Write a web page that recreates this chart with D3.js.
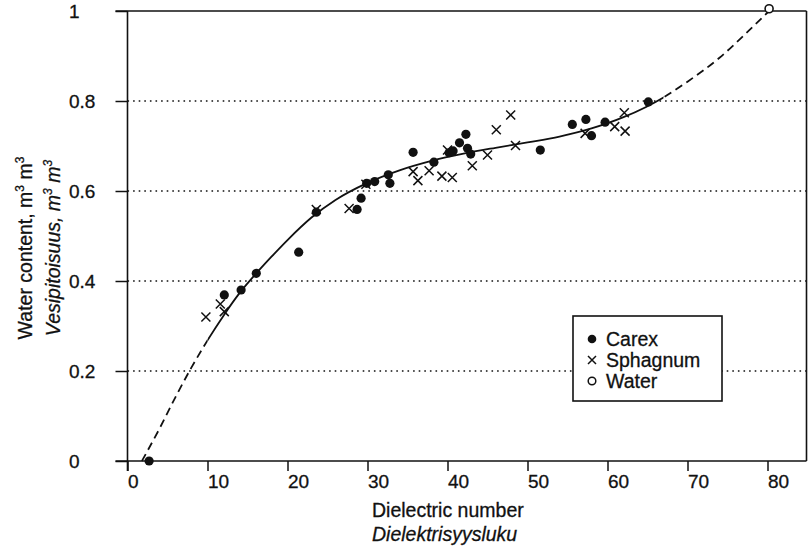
<!DOCTYPE html>
<html>
<head>
<meta charset="utf-8">
<script src="https://cdn.jsdelivr.net/npm/d3@7"></script>
<style>
  body { margin: 0; background: #fff; }
  svg { display: block; font-family: "Liberation Sans", Arial, Helvetica, sans-serif; }
  text { stroke: #111; stroke-width: 0.3px; }
  .tick text { font-size: 19px; fill: #111; }
</style>
</head>
<body>
<div id="chart-area"></div>
<script>
// data
var carexEps   = [2.7, 12.1, 14.2, 16.1, 21.4, 23.6, 28.7, 29.2, 29.9, 30.9, 32.6, 32.8, 35.7, 38.3, 40.2, 40.7, 41.5, 42.3, 42.5, 42.9, 51.6, 55.6, 57.3, 58.0, 59.7, 65.1];
var carexTheta = [0, 0.369, 0.38, 0.417, 0.464, 0.553, 0.559, 0.584, 0.617, 0.621, 0.636, 0.617, 0.686, 0.664, 0.685, 0.689, 0.707, 0.726, 0.695, 0.682, 0.691, 0.748, 0.759, 0.723, 0.753, 0.798];

var sphagEps   = [9.8, 11.6, 12.1, 23.6, 27.7, 29.8, 35.7, 36.3, 37.7, 39.3, 40.6, 40.0, 43.1, 45.0, 46.1, 47.9, 48.5, 57.2, 60.9, 62.1, 62.2];
var sphagTheta = [0.32, 0.349, 0.332, 0.559, 0.561, 0.615, 0.643, 0.623, 0.645, 0.633, 0.63, 0.691, 0.656, 0.68, 0.736, 0.769, 0.701, 0.728, 0.743, 0.774, 0.733];

var waterEps   = [80.2];
var waterTheta = [1.005];

// fitted curve
var fitEps   = [1.8, 4, 6, 8, 10, 12, 14, 16, 18, 20, 23, 26, 30, 34, 38, 42, 46, 50, 54, 58, 62, 67, 70, 74, 77, 80.2];
var fitTheta = [0, 0.072, 0.142, 0.208, 0.268, 0.323, 0.373, 0.415, 0.454, 0.491, 0.541, 0.58, 0.618, 0.646, 0.667, 0.683, 0.696, 0.708, 0.721, 0.739, 0.764, 0.808, 0.843, 0.896, 0.945, 1.0];
var solidFrom = 10, solidTo = 67;   // solid part of the curve, rest dashed

var xTicks = [0, 10, 20, 30, 40, 50, 60, 70, 80];
var yTicks = [0, 0.2, 0.4, 0.6, 0.8, 1];
var gridTicks = [0.2, 0.4, 0.6, 0.8];

var legendNames = ["Carex", "Sphagnum", "Water"];

var W = 808, H = 550;
var ink = "#111";

var svg = d3.select("#chart-area")
    .append("svg")
        .attr("width", W)
        .attr("height", H);

var x = d3.scaleLinear().domain([0, 85]).range([127.5, 807.5]);
var y = d3.scaleLinear().domain([0, 1]).range([461, 11]);

// dotted gridlines
svg.append("g").selectAll("line")
    .data(gridTicks)
    .enter().append("line")
        .attr("x1", x(0)).attr("x2", x(85) - 1)
        .attr("y1", d => y(d)).attr("y2", d => y(d))
        .attr("stroke", ink)
        .attr("stroke-width", 1.3)
        .attr("stroke-dasharray", "1.6,4");

// axes
var xAxis = d3.axisBottom(x).tickValues(xTicks).tickSize(10).tickFormat(d3.format("d"));
var xAxisGroup = svg.append("g")
    .attr("transform", "translate(0," + y(0) + ")")
    .call(xAxis);
xAxisGroup.select(".domain").remove();
xAxisGroup.selectAll(".tick line").attr("stroke", ink).attr("stroke-width", 1.5);
xAxisGroup.selectAll(".tick text")
    .attr("text-anchor", "start")
    .attr("x", 0)
    .attr("y", 27)
    .attr("dy", 0);

var yAxis = d3.axisLeft(y).tickValues(yTicks).tickSize(12).tickFormat(d => d === 0 || d === 1 ? d : d3.format(".1f")(d));
var yAxisGroup = svg.append("g")
    .attr("transform", "translate(" + x(0) + ",0)")
    .call(yAxis);
yAxisGroup.select(".domain").remove();
yAxisGroup.selectAll(".tick line").attr("stroke", ink).attr("stroke-width", 1.5);
yAxisGroup.selectAll(".tick text")
    .attr("text-anchor", "start")
    .attr("x", 69 - x(0))
    .attr("font-size", 20)
    .attr("dy", "0.36em");

// frame
var frame = svg.append("g").attr("stroke", ink).attr("stroke-width", 1.6).attr("fill", "none");
frame.append("line").attr("x1", x(0) - 12).attr("x2", x(85) - 1).attr("y1", y(1)).attr("y2", y(1));
frame.append("line").attr("x1", x(0) - 12).attr("x2", x(85) - 1).attr("y1", y(0)).attr("y2", y(0));
frame.append("line").attr("x1", x(0)).attr("x2", x(0)).attr("y1", y(1)).attr("y2", y(0) + 10);
frame.append("line").attr("x1", x(85) - 1).attr("x2", x(85) - 1).attr("y1", y(1)).attr("y2", y(0));

// fitted curve: one smooth path, clipped into solid and dashed parts
var fit = fitEps.map((e, i) => ({e: e, t: fitTheta[i]}));
var line = d3.line().x(d => x(d.e)).y(d => y(d.t)).curve(d3.curveMonotoneX);

var defs = svg.append("defs");
defs.append("clipPath").attr("id", "clip-solid")
    .append("rect")
        .attr("x", x(solidFrom)).attr("y", 0)
        .attr("width", x(solidTo) - x(solidFrom)).attr("height", H);
var cd = defs.append("clipPath").attr("id", "clip-dash");
cd.append("rect").attr("x", 0).attr("y", 0).attr("width", x(solidFrom)).attr("height", H);
cd.append("rect").attr("x", x(solidTo)).attr("y", 0).attr("width", W - x(solidTo)).attr("height", H);

svg.append("path")
    .attr("d", line(fit))
    .attr("clip-path", "url(#clip-solid)")
    .attr("fill", "none")
    .attr("stroke", ink)
    .attr("stroke-width", 1.8);
svg.append("path")
    .attr("d", line(fit))
    .attr("clip-path", "url(#clip-dash)")
    .attr("fill", "none")
    .attr("stroke", ink)
    .attr("stroke-width", 1.8)
    .attr("stroke-dasharray", "8,5");

// markers
function cross(g, cx, cy, s) {
    g.append("path")
        .attr("d", "M" + (cx - s) + "," + (cy - s) + "L" + (cx + s) + "," + (cy + s) +
                   "M" + (cx - s) + "," + (cy + s) + "L" + (cx + s) + "," + (cy - s))
        .attr("stroke", ink)
        .attr("stroke-width", 1.5)
        .attr("fill", "none");
}

var sphag = svg.append("g");
sphagEps.forEach((e, i) => cross(sphag, x(e), y(sphagTheta[i]), 4.5));

svg.append("g").selectAll("circle")
    .data(carexEps.map((e, i) => ({e: e, t: carexTheta[i]})))
    .enter().append("circle")
        .attr("cx", d => x(d.e))
        .attr("cy", d => y(d.t))
        .attr("r", 4.6)
        .attr("fill", ink);

svg.append("g").selectAll("circle")
    .data(waterEps.map((e, i) => ({e: e, t: waterTheta[i]})))
    .enter().append("circle")
        .attr("cx", d => x(d.e))
        .attr("cy", d => y(d.t))
        .attr("r", 4)
        .attr("fill", "#fff")
        .attr("stroke", ink)
        .attr("stroke-width", 1.6);

// axis titles
svg.append("text")
    .attr("x", 372).attr("y", 517)
    .attr("font-size", 19.5).attr("fill", ink)
    .text("Dielectric number");
svg.append("text")
    .attr("x", 372).attr("y", 541)
    .attr("font-size", 19.5).attr("font-style", "italic").attr("fill", ink)
    .text("Dielektrisyysluku");

function yTitle(tx, italic, label) {
    var t = svg.append("text")
        .attr("transform", "translate(" + tx + ",248) rotate(-90)")
        .attr("text-anchor", "middle")
        .attr("font-size", 19.5)
        .attr("font-style", italic ? "italic" : "normal")
        .attr("fill", ink);
    t.append("tspan").text(label + ", m");
    t.append("tspan").attr("font-size", 12).attr("dy", -8).text("3");
    t.append("tspan").attr("dy", 8).text(" m");
    t.append("tspan").attr("font-size", 12).attr("dy", -8).text("3");
}
yTitle(32, false, "Water content");
yTitle(60, true, "Vesipitoisuus");

// legend
var legend = svg.append("g");
legend.append("rect")
    .attr("x", 573).attr("y", 316)
    .attr("width", 149).attr("height", 85)
    .attr("fill", "#fff")
    .attr("stroke", ink)
    .attr("stroke-width", 1.6);
var rowY = [339, 360, 381];
legendNames.forEach((name, i) => {
    var cy = rowY[i];
    if (i === 0) legend.append("circle").attr("cx", 592).attr("cy", cy).attr("r", 4.3).attr("fill", ink);
    if (i === 1) cross(legend, 592, cy, 4);
    if (i === 2) legend.append("circle").attr("cx", 592).attr("cy", cy).attr("r", 3.8)
        .attr("fill", "#fff").attr("stroke", ink).attr("stroke-width", 1.5);
    legend.append("text")
        .attr("x", 606).attr("y", cy + 7)
        .attr("font-size", 19.5).attr("fill", ink)
        .text(name);
});
</script>
</body>
</html>
